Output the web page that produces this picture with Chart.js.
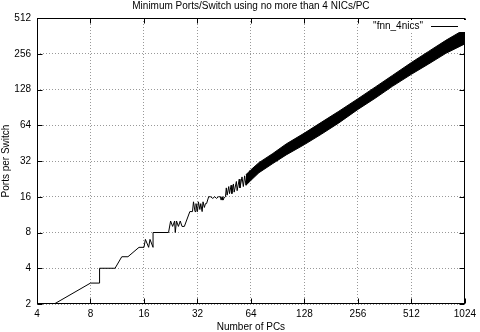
<!DOCTYPE html>
<html>
<head>
<meta charset="utf-8">
<script src="https://cdn.jsdelivr.net/npm/chart.js@4.4.1/dist/chart.umd.min.js"></script>
<style>
  html, body { margin: 0; padding: 0; background: #fff; }
  #wrap { width: 480px; height: 332px; }
</style>
</head>
<body>
<div id="wrap"><canvas id="fnnChart" width="480" height="332"></canvas></div>
<script>
// tick labels (log base 2 axes)
const xTicks = [4, 8, 16, 32, 64, 128, 256, 512, 1024];
const yTicks = [2, 4, 8, 16, 32, 64, 128, 256, 512];

const chartTitle = 'Minimum Ports/Switch using no more than 4 NICs/PC';

// sparse part of the curve
const pcCounts = [5, 8, 9, 9, 11, 12, 13, 15, 16, 16.3, 17, 17.3, 18, 18, 22,
    22.6, 23.2, 23.8, 24, 24.4, 25, 25.6, 26.2, 27, 29, 30, 30.4, 31, 31.4, 32,
    32.4, 33, 33.4, 34, 34.4, 35, 35.5, 36, 37, 38, 39, 40, 41, 42, 43, 43.5,
    44, 44.5, 45, 46, 46.5, 47, 48, 48.5, 49.5, 50, 51, 51.5, 53, 53.5, 55,
    55.5, 57, 58, 59, 60, 61, 62, 63, 64];
const portsPerSwitch = [2, 3, 3, 4, 4, 5, 5, 6, 6, 7, 6, 7, 6, 8, 8,
    10, 9, 10, 8, 10, 9, 10, 9, 9, 12, 12, 14.5, 12, 14, 12,
    14.5, 12.5, 14, 12, 14.5, 13, 14, 14, 16, 16, 15.5, 16, 15.5, 16, 16, 15,
    16, 15, 15.5, 16, 19, 16.5, 19.5, 17, 20, 17, 20.5, 17.5, 21.5, 18, 22.5,
    19, 23.5, 19.5, 24, 20, 25, 21, 26.5, 22];

// dense part: the zigzag fills a band between these two edges
const bandPcs   = [60, 64, 71, 85, 101, 128, 160, 200, 256, 320, 400, 512, 640, 800, 1024];
const bandUpper = [24.5, 27, 31, 37, 44.5, 55, 68, 84, 107, 134, 168, 216, 268, 332, 412];
const bandLower = [20, 22, 25.5, 30.5, 36, 44, 54, 67, 87, 108, 136, 172, 210, 258, 310];

const FONT = '"Liberation Sans", Arial, Helvetica, sans-serif';

function toPoints(xs, ys) {
    return xs.map((x, i) => ({ x: x, y: ys[i] }));
}

// gnuplot style frame, inward ticks, title and key
const gnuplotFrame = {
    id: 'gnuplotFrame',
    afterDatasetsDraw(chart) {
        const { ctx, chartArea: a, scales } = chart;
        const L = Math.round(a.left) + 0.5, R = Math.round(a.right) - 0.5;
        const T = Math.round(a.top) + 0.5, B = Math.round(a.bottom) - 0.5;
        ctx.save();
        ctx.strokeStyle = '#000';
        ctx.lineWidth = 1;
        ctx.beginPath();
        xTicks.forEach(v => {
            const px = Math.round(scales.x.getPixelForValue(v)) + 0.5;
            ctx.moveTo(px, B); ctx.lineTo(px, B - 5);
            ctx.moveTo(px, T); ctx.lineTo(px, T + 5);
        });
        yTicks.forEach(v => {
            const py = Math.round(scales.y.getPixelForValue(v)) + 0.5;
            ctx.moveTo(L, py); ctx.lineTo(L + 5, py);
            ctx.moveTo(R, py); ctx.lineTo(R - 5, py);
        });
        ctx.stroke();
        ctx.strokeRect(L, T, R - L, B - T);

        ctx.fillStyle = '#000';
        ctx.font = '10px ' + FONT;
        ctx.textBaseline = 'middle';
        ctx.textAlign = 'center';
        ctx.fillText(chartTitle, (a.left + a.right) / 2, 6);

        // key
        ctx.fillStyle = '#fff';
        ctx.fillRect(372, 20, 94, 12);
        ctx.fillStyle = '#000';
        ctx.textAlign = 'right';
        ctx.fillText(chart.data.datasets[0].label, 423, 26);
        ctx.beginPath();
        ctx.moveTo(431, 26.5);
        ctx.lineTo(458, 26.5);
        ctx.stroke();
        ctx.restore();
    }
};

const lineStyle = {
    showLine: true,
    borderColor: '#000',
    borderWidth: 1,
    pointRadius: 0,
    tension: 0
};

new Chart(document.getElementById('fnnChart').getContext('2d'), {
    type: 'scatter',
    data: {
        datasets: [
            Object.assign({ label: '"fnn_4nics"', data: toPoints(pcCounts, portsPerSwitch), fill: false }, lineStyle),
            Object.assign({ label: 'upper', data: toPoints(bandPcs, bandUpper), fill: '+1', backgroundColor: '#000' }, lineStyle),
            Object.assign({ label: 'lower', data: toPoints(bandPcs, bandLower), fill: false }, lineStyle)
        ]
    },
    options: {
        responsive: false,
        animation: false,
        layout: { padding: { left: 0, right: 11, top: 18, bottom: 0 } },
        plugins: {
            legend: { display: false },
            tooltip: { enabled: false },
            title: { display: false }
        },
        scales: {
            x: {
                type: 'logarithmic',
                min: 4,
                max: 1024,
                afterBuildTicks: s => { s.ticks = xTicks.map(v => ({ value: v })); },
                afterFit: s => { s.height = 28; },
                ticks: {
                    callback: v => String(v),
                    color: '#000',
                    font: { family: FONT, size: 10 },
                    padding: 4,
                    autoSkip: false,
                    maxRotation: 0
                },
                grid: { color: '#999', drawTicks: false },
                border: { display: false, dash: [1, 2] },
                title: {
                    display: true,
                    text: 'Number of PCs',
                    color: '#000',
                    font: { family: FONT, size: 10, lineHeight: 1 },
                    padding: 0
                }
            },
            y: {
                type: 'logarithmic',
                min: 2,
                max: 512,
                afterBuildTicks: s => { s.ticks = yTicks.map(v => ({ value: v })); },
                afterFit: s => { s.width = 37; },
                ticks: {
                    callback: v => String(v),
                    color: '#000',
                    font: { family: FONT, size: 10 },
                    padding: 6,
                    autoSkip: false
                },
                grid: { color: '#999', drawTicks: false },
                border: { display: false, dash: [1, 2] },
                title: {
                    display: true,
                    text: 'Ports per Switch',
                    color: '#000',
                    font: { family: FONT, size: 10, lineHeight: 1.2 },
                    padding: 0
                }
            }
        }
    },
    plugins: [gnuplotFrame]
});
</script>
</body>
</html>
